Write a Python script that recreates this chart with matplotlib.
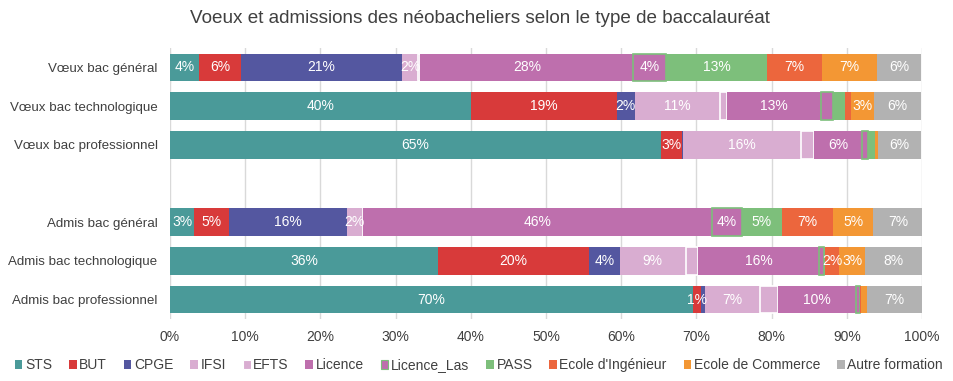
import numpy as np
import matplotlib
matplotlib.use('Agg')
import matplotlib.pyplot as plt

plt.rcParams['font.family'] = ['Liberation Sans', 'DejaVu Sans']

rows = ['Vœux bac général', 'Vœux bac technologique', 'Vœux bac professionnel', '',
        'Admis bac général', 'Admis bac technologique', 'Admis bac professionnel']
series = ['STS', 'BUT', 'CPGE', 'IFSI', 'EFTS', 'Licence', 'Licence_Las', 'PASS',
          "Ecole d'Ingénieur", 'Ecole de Commerce', 'Autre formation']

# percentages per series, one value per row (empty row = 0)
STS = [3.9, 40.0, 65.3, 0, 3.2, 35.7, 69.5]
BUT = [5.6, 19.4, 2.8, 0, 4.7, 20.0, 1.1]
CPGE = [21.3, 2.4, 0.1, 0, 15.6, 4.1, 0.5]
IFSI = [2.2, 11.3, 15.7, 0, 2.1, 8.8, 7.3]
EFTS = [0.3, 0.9, 1.7, 0, 0.1, 1.6, 2.5]
Licence = [28.3, 12.6, 6.4, 0, 46.4, 16.1, 10.3]
Licence_Las = [4.4, 1.6, 0.8, 0, 3.9, 0.7, 0.5]
PASS = [13.4, 1.5, 0.9, 0, 5.4, 0.1, 0.1]
Ingenieur = [7.3, 0.8, 0.1, 0, 6.8, 1.9, 0.1]
Commerce = [7.3, 3.1, 0.3, 0, 5.3, 3.4, 0.8]
Autre = [5.9, 6.2, 5.7, 0, 6.6, 7.6, 7.3]

values = [STS, BUT, CPGE, IFSI, EFTS, Licence, Licence_Las, PASS, Ingenieur, Commerce, Autre]

# segments whose label is not displayed in the original
no_label = {('Vœux bac technologique', 'Licence_Las'), ('Vœux bac technologique', 'PASS')}

colors = ['#4A9A99', '#D83A3A', '#5457A0', '#D9ADD1', '#D9ADD1', '#BE6FAD',
          '#BE6FAD', '#7DBF7B', '#EC663D', '#F39734', '#B2B2B2']
edges = [None, None, None, None, 'white', None, '#7DBF7B', None, None, None, None]

fig = plt.figure(figsize=(9.54, 3.81), dpi=100)
ax = fig.add_axes([0.1782, 0.1627, 0.9665 - 0.1782, 0.874 - 0.1627])

y = np.arange(len(rows))
left = np.zeros(len(rows))
for name, vals, c, ec in zip(series, values, colors, edges):
    vals = np.array(vals, dtype=float)
    if ec is None:
        ax.barh(y, vals, left=left, height=0.71, color=c, label=name, zorder=3)
    else:
        keep = vals > 0
        ax.barh(y[keep], vals[keep], left=left[keep], height=0.71, color=c, edgecolor=ec,
                linewidth=1.2, zorder=3)
        ax.barh([0], [0], color=c, edgecolor=ec, linewidth=0.8, label=name)
    for i, v in enumerate(vals):
        if v < 1.0 or name == 'EFTS' or (rows[i], name) in no_label:
            continue
        ax.text(left[i] + v / 2, y[i], f'{round(v)}%', ha='center', va='center',
                color='white', fontsize=10, zorder=4)
    left += vals

ax.set_xlim(0, 100)
ax.set_ylim(6.5, -0.5)
ax.set_yticks(y)
ax.set_yticklabels(rows, fontsize=9.6, color='#404040')
ax.set_xticks(np.arange(0, 101, 10))
ax.set_xticklabels([f'{t}%' for t in range(0, 101, 10)], fontsize=10, color='#404040')
ax.tick_params(axis='y', length=0, pad=9)
ax.tick_params(axis='x', length=0, pad=8)
ax.grid(axis='x', color='#D9D9D9', linewidth=1, zorder=0)
for s in ax.spines.values():
    s.set_visible(False)

fig.suptitle('Voeux et admissions des néobacheliers selon le type de baccalauréat',
             x=0.503, y=0.975, fontsize=13.6, color='#404040')

handles, labels = ax.get_legend_handles_labels()
fig.legend(handles, labels, loc='lower center', bbox_to_anchor=(0.502, -0.01), ncol=11,
           frameon=False, fontsize=10, handlelength=0.55, handleheight=0.55,
           handletextpad=0.2, columnspacing=1.2, labelcolor='#404040')

fig.savefig('out.png', dpi=100)
